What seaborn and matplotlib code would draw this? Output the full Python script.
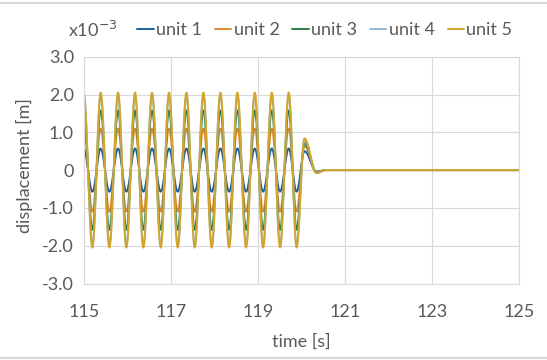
import numpy as np
import pandas as pd
import seaborn as sns
import matplotlib.pyplot as plt

# ---- data (displacement in units of 1e-3 m) ----
units = ["unit 1", "unit 2", "unit 3", "unit 4", "unit 5"]
colors = ["#1f5f9a", "#dd8a2e", "#2e7d45", "#8fb8d8", "#d2a62c"]

# times of the peaks / troughs of the forced oscillation (peak first)
extrema_times = [115.00, 115.20, 115.39, 115.59, 115.79, 115.98, 116.18, 116.37,
                 116.57, 116.77, 116.96, 117.16, 117.36, 117.55, 117.75, 117.94,
                 118.14, 118.34, 118.53, 118.73, 118.93, 119.12, 119.32, 119.51,
                 119.71, 119.89]
# peak amplitude of each unit during the oscillation
amplitudes = [0.57, 1.10, 1.58, 1.97, 2.05]

# free decay after the excitation stops
decay_times = [120.07, 120.35, 120.55, 125.00]
decay_values = {
    "unit 1": [0.50, -0.04, 0.0, 0.0],
    "unit 2": [0.64, -0.06, 0.0, 0.0],
    "unit 3": [0.72, -0.07, 0.0, 0.0],
    "unit 4": [0.80, -0.08, 0.0, 0.0],
    "unit 5": [0.84, -0.08, 0.0, 0.0],
}


def smooth_between(knot_t, knot_v, n=30):
    # half-cosine join between successive extrema
    ts, vs = [], []
    for i in range(len(knot_t) - 1):
        s = np.linspace(0, 1, n, endpoint=False)
        ts.append(knot_t[i] + (knot_t[i + 1] - knot_t[i]) * s)
        vs.append(knot_v[i] + (knot_v[i + 1] - knot_v[i]) * (1 - np.cos(np.pi * s)) / 2)
    ts.append([knot_t[-1]])
    vs.append([knot_v[-1]])
    return np.concatenate(ts), np.concatenate(vs)


frames = []
for name, amp in zip(units, amplitudes):
    kv = [amp if i % 2 == 0 else -amp for i in range(len(extrema_times))]
    t, v = smooth_between(extrema_times + decay_times, kv + decay_values[name])
    frames.append(pd.DataFrame({"time": t, "disp": v, "unit": name}))
df = pd.concat(frames, ignore_index=True)

# ---- plot ----
sns.set_style("white")
plt.rcParams["font.family"] = ["Lato", "DejaVu Sans"]
txt = "#595959"
fs = 13

fig = plt.figure(figsize=(5.47, 3.6), dpi=100)
ax = fig.add_axes([0.153, 0.2125, 0.796, 0.63])

sns.lineplot(data=df, x="time", y="disp", hue="unit", hue_order=units,
             palette=colors, estimator=None, sort=False, linewidth=1.4,
             ax=ax, legend=False)

ax.set_xlim(115, 125)
ax.set_ylim(-3, 3)
ax.set_xticks([115, 117, 119, 121, 123, 125])
ax.set_yticks([-3, -2, -1, 0, 1, 2, 3])
ax.set_yticklabels(["-3.0", "-2.0", "-1.0", "0", "1.0", "2.0", "3.0"])
ax.grid(True, color="#d9d9d9", linewidth=0.8)
for sp in ax.spines.values():
    sp.set_color("#d9d9d9")
    sp.set_linewidth(0.8)
ax.tick_params(colors=txt, labelsize=fs, length=0)
ax.tick_params(axis="x", pad=15)
ax.tick_params(axis="y", pad=7)
ax.set_xlabel("time [s]", color=txt, fontsize=fs, va="center")
ax.xaxis.set_label_coords(0.5, -0.258)
ax.set_ylabel("displacement [m]", color=txt, fontsize=fs, va="center")
ax.yaxis.set_label_coords(-0.135, 0.52)

handles = [plt.Line2D([], [], color=c, linewidth=1.4) for c in colors]
fig.legend(handles, units, loc="center", bbox_to_anchor=(0.594, 0.917), ncol=5,
           frameon=False, handlelength=0.9, handletextpad=0.15, columnspacing=0.7,
           fontsize=fs, labelcolor=txt)
fig.text(0.124, 0.917, r"x10$^{-3}$", color=txt, fontsize=fs, va="center")

# light chart-area border lines at top and bottom
fig.add_artist(plt.Line2D([0, 1], [0.992, 0.992], color="#d9d9d9", linewidth=1.5))
fig.add_artist(plt.Line2D([0, 1], [0.006, 0.006], color="#d9d9d9", linewidth=1.5))

fig.savefig("out.png", dpi=100)
